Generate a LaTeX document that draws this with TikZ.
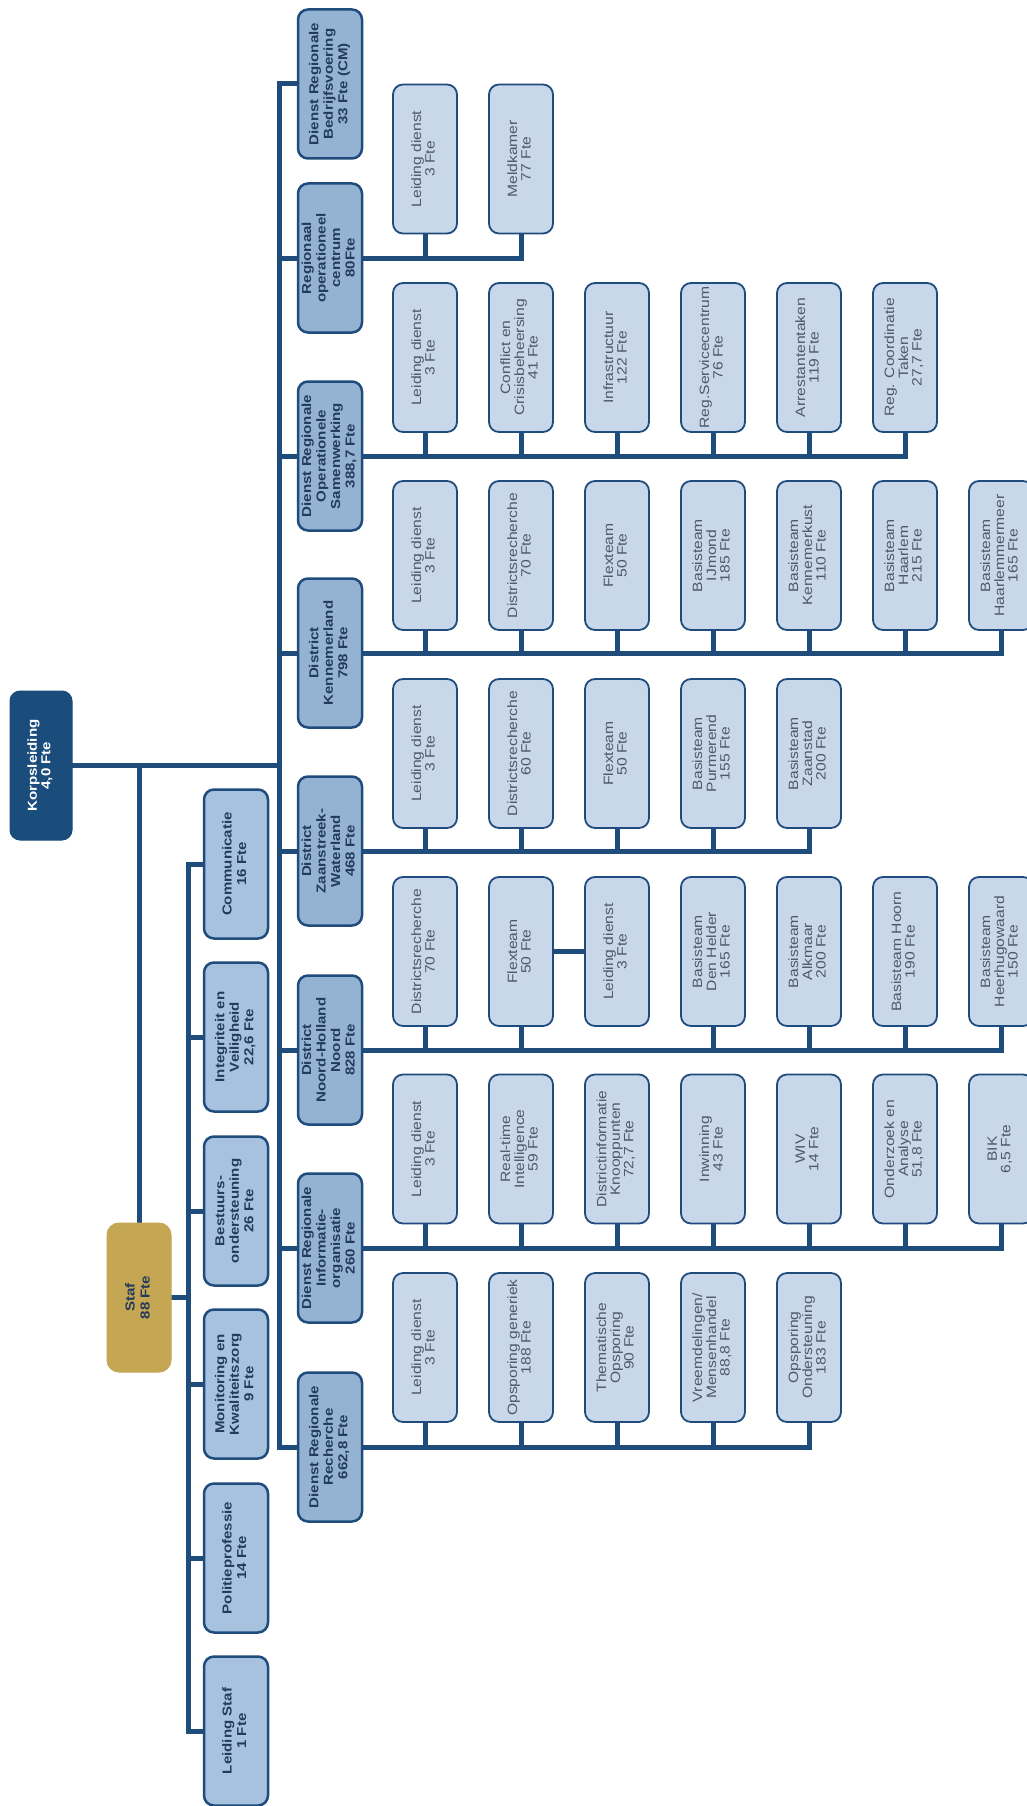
\documentclass[tikz,border=0pt]{standalone}
\usepackage{fontspec}
\usepackage{graphicx}
\setmainfont{Liberation Sans}
\newfontfamily\lfont[FakeStretch=1.16]{Liberation Sans}
\usetikzlibrary{backgrounds}
\definecolor{linec}{HTML}{1E4D7B}
\definecolor{bordc}{HTML}{1F4C7C}
\definecolor{korpsf}{HTML}{1A4D7C}
\definecolor{staff}{HTML}{C4A653}
\definecolor{midf}{HTML}{94B3D3}
\definecolor{staffc}{HTML}{A7C2DE}
\definecolor{lightf}{HTML}{C8D8EA}
\definecolor{txtd}{HTML}{233A5C}
\definecolor{txtl}{HTML}{4E5866}
\newcommand\rtext[1]{\rotatebox{90}{\begin{tabular}{@{}c@{}}#1\end{tabular}}}
\tikzset{
  conn/.style={draw=linec, line width=5pt, line cap=rect},
  box/.style={draw=bordc, rounded corners=10pt, minimum width=64pt, minimum height=149pt, inner sep=0pt},
  lvtwo/.style={box, fill=lightf, line width=1.8pt, font={\lfont\fontsize{13.5}{13.5}\selectfont}, text=txtl},
  lvone/.style={box, fill=midf, line width=2.5pt, font={\lfont\bfseries\fontsize{13}{14.5}\selectfont}, text=txtd},
  stafchild/.style={lvone, fill=staffc},
  korpsbox/.style={box, fill=korpsf, draw=korpsf, line width=1pt, text=white, minimum width=62pt, font={\lfont\bfseries\fontsize{13}{13.5}\selectfont}},
  stafbox/.style={box, fill=staff, draw=staff, line width=1pt, text=txtd, rounded corners=12pt, font={\lfont\bfseries\fontsize{13}{15}\selectfont}}
}
\begin{document}
\begin{tikzpicture}[x=1pt,y=-1pt]
\useasboundingbox (0,0) rectangle (1027,1806);
\coordinate (spine) at (279,0);
\coordinate (sspine) at (188,0);

% top
\node[korpsbox] (korps) at (41,765.5) {\rtext{Korpsleiding\\4,0 Fte}};
\node[stafbox] (staf) at (139,1297.5) {\rtext{Staf\\88 Fte}};

% staff children
\node[stafchild] (s1) at (236,864) {\rtext{Communicatie\\16 Fte}};
\node[stafchild] (s2) at (236,1037) {\rtext{Integriteit en\\Veiligheid\\22,6 Fte}};
\node[stafchild] (s3) at (236,1211) {\rtext{Bestuurs-\\ondersteuning\\26 Fte}};
\node[stafchild] (s4) at (236,1384) {\rtext{Monitoring en\\Kwaliteitszorg\\9 Fte}};
\node[stafchild] (s5) at (236,1558) {\rtext{Politieprofessie\\14 Fte}};
\node[stafchild] (s6) at (236,1731) {\rtext{Leiding Staf\\1 Fte}};

% level one
\node[lvone] (bv) at (330,84) {\rtext{Dienst Regionale\\Bedrijfsvoering\\33 Fte (CM)}};
\node[lvone] (roc) at (330,258) {\rtext{Regionaal\\operationeel\\centrum\\80Fte}};
\node[lvone] (dros) at (330,456) {\rtext{Dienst Regionale\\Operationele\\Samenwerking\\388,7 Fte}};
\node[lvone] (ken) at (330,653) {\rtext{District\\Kennemerland\\798 Fte}};
\node[lvone] (zw) at (330,851) {\rtext{District\\Zaanstreek-\\Waterland\\468 Fte}};
\node[lvone] (nhn) at (330,1050) {\rtext{District\\Noord-Holland\\Noord\\828 Fte}};
\node[lvone] (dri) at (330,1248) {\rtext{Dienst Regionale\\Informatie-\\organisatie\\260 Fte}};
\node[lvone] (drr) at (330,1447) {\rtext{Dienst Regionale\\Recherche\\662,8 Fte}};

% ROC row
\node[lvtwo] (roc1) at (425,159) {\rtext{Leiding dienst\\3 Fte}};
\node[lvtwo] (roc2) at (521,159) {\rtext{Meldkamer\\77 Fte}};

% DROS row
\node[lvtwo] (dros1) at (425,357.5) {\rtext{Leiding dienst\\3 Fte}};
\node[lvtwo] (dros2) at (521,357.5) {\rtext{Conflict en\\Crisisbeheersing\\41 Fte}};
\node[lvtwo] (dros3) at (617,357.5) {\rtext{Infrastructuur\\122 Fte}};
\node[lvtwo] (dros4) at (713,357.5) {\rtext{Reg.Servicecentrum\\76 Fte}};
\node[lvtwo] (dros5) at (809,357.5) {\rtext{Arrestantentaken\\119 Fte}};
\node[lvtwo] (dros6) at (905,357.5) {\rtext{Reg. Coordinatie\\Taken\\27,7 Fte}};

% Kennemerland row
\node[lvtwo] (ken1) at (425,555.5) {\rtext{Leiding dienst\\3 Fte}};
\node[lvtwo] (ken2) at (521,555.5) {\rtext{Districtsrecherche\\70 Fte}};
\node[lvtwo] (ken3) at (617,555.5) {\rtext{Flexteam\\50 Fte}};
\node[lvtwo] (ken4) at (713,555.5) {\rtext{Basisteam\\IJmond\\185 Fte}};
\node[lvtwo] (ken5) at (809,555.5) {\rtext{Basisteam\\Kennemerkust\\110 Fte}};
\node[lvtwo] (ken6) at (905,555.5) {\rtext{Basisteam\\Haarlem\\215 Fte}};
\node[lvtwo] (ken7) at (1001,555.5) {\rtext{Basisteam\\Haarlemmermeer\\165 Fte}};

% Zaanstreek row
\node[lvtwo] (zw1) at (425,753.5) {\rtext{Leiding dienst\\3 Fte}};
\node[lvtwo] (zw2) at (521,753.5) {\rtext{Districtsrecherche\\60 Fte}};
\node[lvtwo] (zw3) at (617,753.5) {\rtext{Flexteam\\50 Fte}};
\node[lvtwo] (zw4) at (713,753.5) {\rtext{Basisteam\\Purmerend\\155 Fte}};
\node[lvtwo] (zw5) at (809,753.5) {\rtext{Basisteam\\Zaanstad\\200 Fte}};

% NHN row
\node[lvtwo] (nhn1) at (425,951.5) {\rtext{Districtsrecherche\\70 Fte}};
\node[lvtwo] (nhn2) at (521,951.5) {\rtext{Flexteam\\50 Fte}};
\node[lvtwo] (nhn3) at (617,951.5) {\rtext{Leiding dienst\\3 Fte}};
\node[lvtwo] (nhn4) at (713,951.5) {\rtext{Basisteam\\Den Helder\\165 Fte}};
\node[lvtwo] (nhn5) at (809,951.5) {\rtext{Basisteam\\Alkmaar\\200 Fte}};
\node[lvtwo] (nhn6) at (905,951.5) {\rtext{Basisteam Hoorn\\190 Fte}};
\node[lvtwo] (nhn7) at (1001,951.5) {\rtext{Basisteam\\Heerhugowaard\\150 Fte}};

% Informatie row
\node[lvtwo] (dri1) at (425,1149) {\rtext{Leiding dienst\\3 Fte}};
\node[lvtwo] (dri2) at (521,1149) {\rtext{Real-time\\Intelligence\\59 Fte}};
\node[lvtwo] (dri3) at (617,1149) {\rtext{Districtinformatie\\Knooppunten\\72,7 Fte}};
\node[lvtwo] (dri4) at (713,1149) {\rtext{Inwinning\\43 Fte}};
\node[lvtwo] (dri5) at (809,1149) {\rtext{WIV\\14 Fte}};
\node[lvtwo] (dri6) at (905,1149) {\rtext{Onderzoek en\\Analyse\\51,8 Fte}};
\node[lvtwo] (dri7) at (1001,1149) {\rtext{BIK\\6,5 Fte}};

% Recherche row
\node[lvtwo] (drr1) at (425,1347.5) {\rtext{Leiding dienst\\3 Fte}};
\node[lvtwo] (drr2) at (521,1347.5) {\rtext{Opsporing generiek\\188 Fte}};
\node[lvtwo] (drr3) at (617,1347.5) {\rtext{Thematische\\Opsporing\\90 Fte}};
\node[lvtwo] (drr4) at (713,1347.5) {\rtext{Vreemdelingen/\\Mensenhandel\\88,8 Fte}};
\node[lvtwo] (drr5) at (809,1347.5) {\rtext{Opsporing\\Ondersteuning\\183 Fte}};

\begin{pgfonlayer}{background}
\fill[white] (0,0) rectangle (1027,1806);
% top structure
\draw[conn] (korps.east) -- (spine |- korps);
\draw[conn] (staf.north |- korps) -- (staf.north);
\draw[conn] (staf.east) -- (sspine |- staf);
\draw[conn] (sspine |- s1) -- (sspine |- s6);
\foreach \n in {s1,s2,s3,s4,s5,s6} \draw[conn] (sspine |- \n) -- (\n.west);
% main spine
\draw[conn] (spine |- bv) -- (spine |- drr);
\foreach \n in {bv,roc,dros,ken,zw,nhn,dri,drr} \draw[conn] (spine |- \n) -- (\n.west);
% buses
\draw[conn] (roc.east) -- (roc2.south |- roc) -- (roc2.south);
\draw[conn] (roc1.south) -- (roc1.south |- roc);
\draw[conn] (dros.east) -- (dros6.south |- dros) -- (dros6.south);
\foreach \n in {dros1,dros2,dros3,dros4,dros5} \draw[conn] (\n.south) -- (\n.south |- dros);
\draw[conn] (ken.east) -- (ken7.south |- ken) -- (ken7.south);
\foreach \n in {ken1,ken2,ken3,ken4,ken5,ken6} \draw[conn] (\n.south) -- (\n.south |- ken);
\draw[conn] (zw.east) -- (zw5.south |- zw) -- (zw5.south);
\foreach \n in {zw1,zw2,zw3,zw4} \draw[conn] (\n.south) -- (\n.south |- zw);
\draw[conn] (nhn.east) -- (nhn7.south |- nhn) -- (nhn7.south);
\foreach \n in {nhn1,nhn2,nhn4,nhn5,nhn6} \draw[conn] (\n.south) -- (\n.south |- nhn);
\draw[conn] (nhn2.east) -- (nhn3.west);
\draw[conn] (dri.east) -- (dri7.south |- dri) -- (dri7.south);
\foreach \n in {dri1,dri2,dri3,dri4,dri5,dri6} \draw[conn] (\n.south) -- (\n.south |- dri);
\draw[conn] (drr.east) -- (drr5.south |- drr) -- (drr5.south);
\foreach \n in {drr1,drr2,drr3,drr4} \draw[conn] (\n.south) -- (\n.south |- drr);
\end{pgfonlayer}
\end{tikzpicture}
\end{document}
